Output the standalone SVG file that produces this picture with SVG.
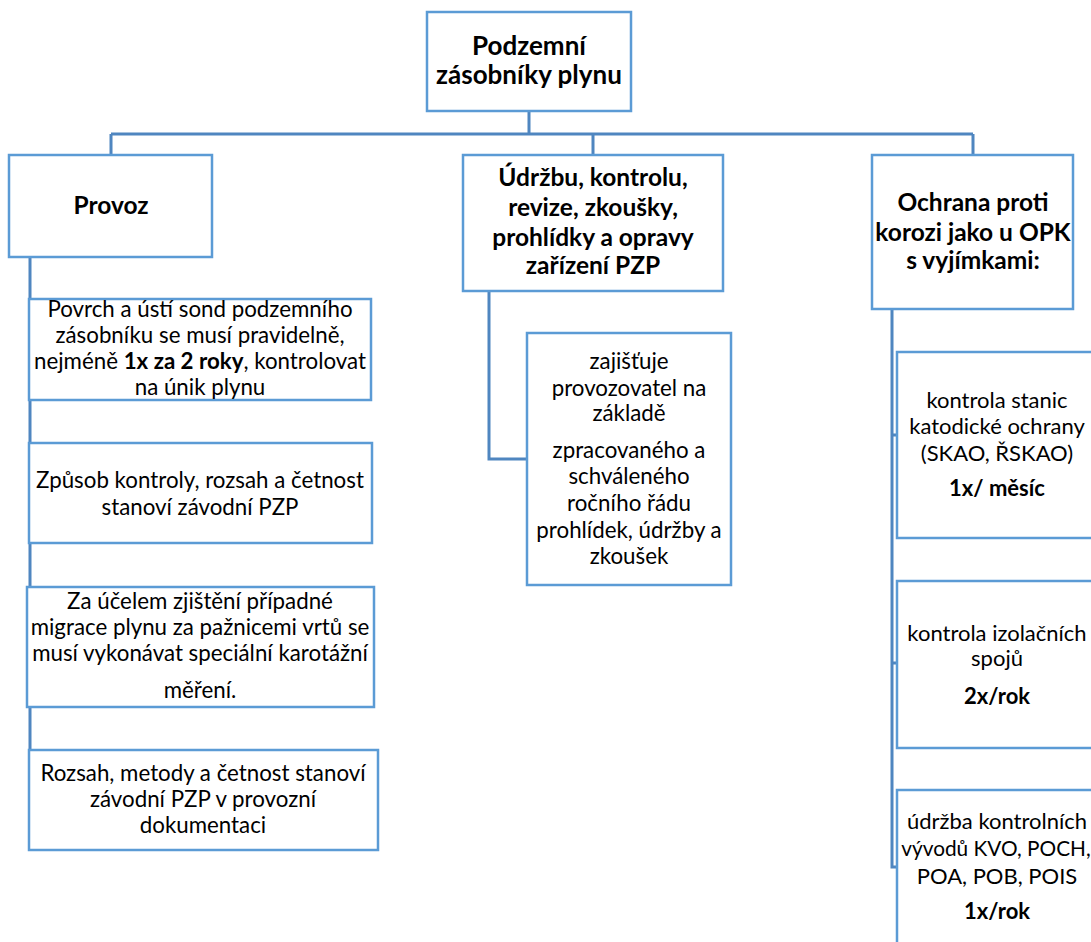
<svg xmlns="http://www.w3.org/2000/svg" width="1091" height="942" viewBox="0 0 1091 942">
  <style>
    .box { fill: #ffffff; stroke: #5b9bd5; stroke-width: 2.5; }
    .wire { fill: none; stroke: #4f86c0; stroke-width: 3; }
    text { font-family: Lato, "Noto Sans", "Liberation Sans", sans-serif; fill: #000000; text-anchor: middle; }
    .r { font-size: 26px; font-weight: bold; }
    .h { font-size: 24.5px; font-weight: bold; }
    .t { font-size: 22.3px; }
    .s { font-size: 22px; }
    .b { font-weight: bold; }
  </style>
  <rect width="1091" height="942" fill="#ffffff"/>

  <!-- tree connectors -->
  <g id="connectors">
    <path class="wire" d="M529 111 V134 M111 134 H973 M111 134 V155 M593 134 V155 M973 134 V155"/>
    <path class="wire" d="M30 257 V800"/>
    <path class="wire" d="M489 291 V459 H527"/>
    <path class="wire" d="M892 309 V867 H897 M892 435 H897 M892 663 H897"/>
  </g>

  <g id="root">
    <rect class="box" x="427" y="12" width="204" height="99"/>
    <text class="r" x="529" y="55">Podzemní</text>
    <text class="r" x="529" y="84">zásobníky plynu</text>
  </g>

  <g id="provoz">
    <rect class="box" x="9" y="155" width="203" height="102"/>
    <text class="h" x="111" y="214">Provoz</text>
  </g>

  <g id="provoz-1">
    <rect class="box" x="29" y="299" width="342" height="101"/>
    <text class="t" x="200" y="317">Povrch a ústí sond podzemního</text>
    <text class="t" x="200" y="343">zásobníku se musí pravidelně,</text>
    <text class="t" x="200" y="369">nejméně <tspan class="b">1x za 2 roky</tspan>, kontrolovat</text>
    <text class="t" x="200" y="395">na únik plynu</text>
  </g>

  <g id="provoz-2">
    <rect class="box" x="29" y="443" width="343" height="100"/>
    <text class="t" x="200" y="488">Způsob kontroly, rozsah a četnost</text>
    <text class="t" x="200" y="515">stanoví závodní PZP</text>
  </g>

  <g id="provoz-3">
    <rect class="box" x="27" y="587" width="347" height="120"/>
    <text class="t" x="200" y="609">Za účelem zjištění případné</text>
    <text class="t" x="200" y="635">migrace plynu za pažnicemi vrtů se</text>
    <text class="t" x="200" y="661">musí vykonávat speciální karotážní</text>
    <text class="t" x="200" y="698">měření.</text>
  </g>

  <g id="provoz-4">
    <rect class="box" x="29" y="750" width="349" height="100"/>
    <text class="t" x="203" y="781">Rozsah, metody a četnost stanoví</text>
    <text class="t" x="203" y="807">závodní PZP v provozní</text>
    <text class="t" x="203" y="833">dokumentaci</text>
  </g>

  <g id="udrzba">
    <rect class="box" x="463" y="155" width="260" height="136"/>
    <text class="h" x="593" y="186">Údržbu, kontrolu,</text>
    <text class="h" x="593" y="216">revize, zkoušky,</text>
    <text class="h" x="593" y="246">prohlídky a opravy</text>
    <text class="h" x="593" y="274">zařízení PZP</text>
  </g>

  <g id="udrzba-1">
    <rect class="box" x="527" y="333" width="204" height="252"/>
    <text class="t" x="629" y="369">zajišťuje</text>
    <text class="t" x="629" y="396">provozovatel na</text>
    <text class="t" x="629" y="421">základě</text>
    <text class="t" x="629" y="458">zpracovaného a</text>
    <text class="t" x="629" y="484">schváleného</text>
    <text class="t" x="629" y="511">ročního řádu</text>
    <text class="t" x="629" y="538">prohlídek, údržby a</text>
    <text class="t" x="629" y="564">zkoušek</text>
  </g>

  <g id="ochrana">
    <rect class="box" x="872" y="155" width="201" height="154"/>
    <text class="h" x="973" y="211">Ochrana proti</text>
    <text class="h" x="973" y="241">korozi jako u OPK</text>
    <text class="h" x="973" y="269">s vyjímkami:</text>
  </g>

  <g id="ochrana-1">
    <rect class="box" x="897" y="352" width="220" height="186"/>
    <text class="s" x="997" y="408">kontrola stanic</text>
    <text class="s" x="997" y="434">katodické ochrany</text>
    <text class="s" x="997" y="461">(SKAO, ŘSKAO)</text>
    <text class="s b" x="997" y="496">1x/ měsíc</text>
  </g>

  <g id="ochrana-2">
    <rect class="box" x="897" y="581" width="220" height="167"/>
    <text class="s" x="997" y="641">kontrola izolačních</text>
    <text class="s" x="997" y="666">spojů</text>
    <text class="s b" x="997" y="704">2x/rok</text>
  </g>

  <g id="ochrana-3">
    <rect class="box" x="897" y="790" width="220" height="180"/>
    <text class="s" x="997" y="829">údržba kontrolních</text>
    <text class="s" x="996" y="856" style="font-size:20.8px">vývodů KVO, POCH,</text>
    <text class="s" x="997" y="884">POA, POB, POIS</text>
    <text class="s b" x="997" y="919">1x/rok</text>
  </g>
</svg>
